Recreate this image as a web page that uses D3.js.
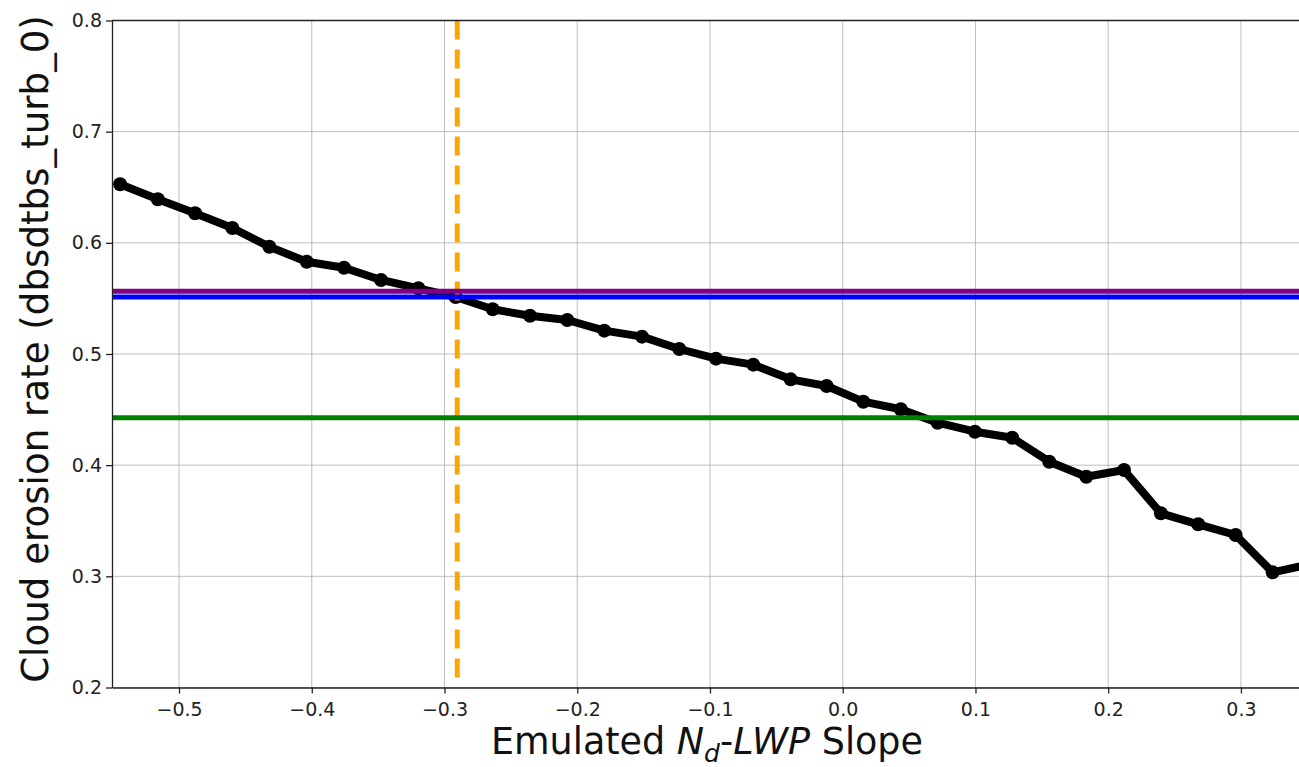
<!DOCTYPE html>
<html>
<head>
<meta charset="utf-8">
<script src="https://cdn.jsdelivr.net/npm/d3@7"></script>
<style>
  html, body { margin: 0; padding: 0; background: #ffffff; }
  svg { display: block; }
  text { font-family: "DejaVu Sans", sans-serif; }
</style>
</head>
<body>
<svg id="chart" width="1299" height="767"></svg>
<script>
// ---- data ----
const slopeValues = [-0.5444, -0.5160, -0.4879, -0.4598, -0.4320, -0.4038, -0.3757, -0.3478, -0.3197, -0.2916,
  -0.2637, -0.2356, -0.2075, -0.1796, -0.1512, -0.1231, -0.0955, -0.0674, -0.0392, -0.0121,
  0.0155, 0.0437, 0.0715, 0.0996, 0.1277, 0.1556, 0.1835, 0.2119, 0.2397, 0.2678,
  0.2960, 0.3239, 0.3520];
const erosionValues = [0.6527, 0.6392, 0.6266, 0.6133, 0.5965, 0.5830, 0.5776, 0.5666, 0.5591, 0.5513,
  0.5402, 0.5344, 0.5306, 0.5210, 0.5156, 0.5045, 0.4958, 0.4904, 0.4772, 0.4712,
  0.4571, 0.4503, 0.4382, 0.4301, 0.4247, 0.4031, 0.3896, 0.3956, 0.3567, 0.3468,
  0.3372, 0.3036, 0.3108];
const refLineValues = [0.5564, 0.5513, 0.4427];   // purple, blue, green
const refLineNames = ["purple", "blue", "green"];
const observedSlope = -0.2904;
const xTickValues = [-0.5, -0.4, -0.3, -0.2, -0.1, 0.0, 0.1, 0.2, 0.3];
const yTickValues = [0.2, 0.3, 0.4, 0.5, 0.6, 0.7, 0.8];
const xDomain = [-0.5505, 0.3460];
const yDomain = [0.2, 0.8];

// ---- layout ----
const svg = d3.select("#chart");
const pL = 112, pR = 1302, pT = 20.5, pB = 687.5;
const x = d3.scaleLinear().domain(xDomain).range([pL, pR]);
const y = d3.scaleLinear().domain(yDomain).range([pB, pT]);

svg.append("defs").append("clipPath").attr("id", "plotClip")
  .append("rect").attr("x", pL).attr("y", pT).attr("width", pR - pL).attr("height", pB - pT);

// grid
const grid = svg.append("g");
grid.selectAll("line.vg").data(xTickValues).join("line")
  .attr("x1", d => x(d)).attr("x2", d => x(d)).attr("y1", pT).attr("y2", pB)
  .attr("stroke", "#b0b0b0").attr("stroke-width", 1).attr("opacity", 0.8);
grid.selectAll("line.hg").data(yTickValues).join("line")
  .attr("x1", pL).attr("x2", pR).attr("y1", d => y(d)).attr("y2", d => y(d))
  .attr("stroke", "#b0b0b0").attr("stroke-width", 1).attr("opacity", 0.8);

const plot = svg.append("g").attr("clip-path", "url(#plotClip)");

// black line with markers
const pts = slopeValues.map((s, i) => [s, erosionValues[i]]);
const line = d3.line().x(d => x(d[0])).y(d => y(d[1]));
plot.append("path").datum(pts).attr("d", line)
  .attr("fill", "none").attr("stroke", "#000").attr("stroke-width", 8)
  .attr("stroke-linejoin", "round");
plot.selectAll("circle").data(pts).join("circle")
  .attr("cx", d => x(d[0])).attr("cy", d => y(d[1])).attr("r", 7).attr("fill", "#000");

// orange dashed vertical line
plot.append("line")
  .attr("x1", x(observedSlope)).attr("x2", x(observedSlope)).attr("y1", pT).attr("y2", pB)
  .attr("stroke", "#FFA500").attr("stroke-width", 5).attr("stroke-dasharray", "19,10");

// horizontal reference lines
plot.selectAll("line.ref").data(refLineValues).join("line")
  .attr("x1", pL).attr("x2", pR).attr("y1", d => y(d)).attr("y2", d => y(d))
  .attr("stroke", (d, i) => refLineNames[i]).attr("stroke-width", 5);

// axes
const fmt = d => (d < 0 ? "\u2212" : "") + Math.abs(d).toFixed(1);
const xAxis = svg.append("g").attr("transform", `translate(0,${pB})`)
  .call(d3.axisBottom(x).tickValues(xTickValues).tickFormat(fmt).tickSize(6).tickSizeOuter(0));
const yAxis = svg.append("g").attr("transform", `translate(${pL},0)`)
  .call(d3.axisLeft(y).tickValues(yTickValues).tickFormat(d => d.toFixed(1)).tickSize(6).tickSizeOuter(0));
[xAxis, yAxis].forEach(a => {
  a.select(".domain").attr("stroke", "#222").attr("stroke-width", 1.3);
  a.selectAll(".tick line").attr("stroke", "#222").attr("stroke-width", 1.3);
  a.selectAll(".tick text").attr("font-size", 19).attr("fill", "#222")
    .attr("font-family", "DejaVu Sans, sans-serif");
});
xAxis.selectAll(".tick text").attr("dy", "1.0em");
yAxis.selectAll(".tick text").attr("x", -10);
// top spine
svg.append("line").attr("x1", pL).attr("x2", pR).attr("y1", pT).attr("y2", pT)
  .attr("stroke", "#222").attr("stroke-width", 1.3);

// axis titles
const yt = svg.append("text")
  .attr("transform", `translate(48,349) rotate(-90)`)
  .attr("text-anchor", "middle").attr("font-size", 35).attr("fill", "#111")
  .text("Cloud erosion rate (dbsdtbs_turb_0)");
const ytLen = yt.node().getComputedTextLength();
if (ytLen > 0) yt.attr("font-size", Math.min(38, 35 * 668 / ytLen));

const xt = svg.append("text").attr("x", 707).attr("y", 754)
  .attr("text-anchor", "middle").attr("font-size", 36.5).attr("fill", "#111");
xt.append("tspan").text("Emulated ");
xt.append("tspan").attr("font-style", "italic").text("N");
xt.append("tspan").attr("font-style", "italic").attr("font-size", 25).attr("dy", 8).text("d");
xt.append("tspan").attr("dy", -8).text("-");
xt.append("tspan").attr("font-style", "italic").text("LWP");
xt.append("tspan").text(" Slope");
</script>
</body>
</html>
